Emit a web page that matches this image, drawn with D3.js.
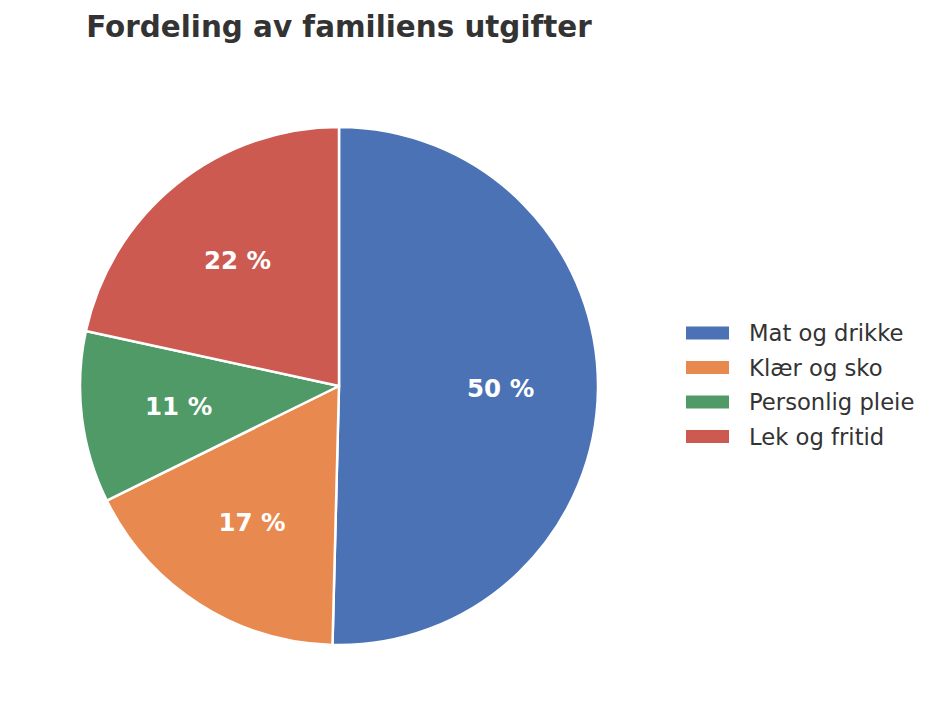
<!DOCTYPE html>
<html>
<head>
<meta charset="utf-8">
<script src="https://cdn.jsdelivr.net/npm/d3@7/dist/d3.min.js"></script>
<style>
  body { margin: 0; background: #ffffff; }
  text { font-family: "DejaVu Sans", sans-serif; }
</style>
</head>
<body>
<div id="chart"></div>
<script>
// expense categories and their shares (percent)
var categories = ["Mat og drikke", "Klær og sko", "Personlig pleie", "Lek og fritid"];
var shares = [50.4, 17.3, 10.7, 21.6];
var colors = ["#4a72b4", "#e8894f", "#509a67", "#cd5a51"];
var title = "Fordeling av familiens utgifter";

var width = 938, height = 726;
var cx = 339, cy = 386, radius = 259;

var svg = d3.select("#chart").append("svg")
  .attr("width", width).attr("height", height)
  .attr("style", "background-color: white;");

svg.append("text")
  .attr("x", cx).attr("y", 37)
  .attr("text-anchor", "middle")
  .attr("font-size", "29.4px").attr("font-weight", "bold")
  .attr("fill", "#333333")
  .text(title);

var data = categories.map(function(c, i) { return { name: c, value: shares[i], color: colors[i] }; });

// clockwise from 12 o'clock, keep data order
var pie = d3.pie().sort(null).value(function(d) { return d.value; });
var arc = d3.arc().innerRadius(0).outerRadius(radius);
var labelArc = d3.arc().innerRadius(radius * 0.624).outerRadius(radius * 0.624);

var g = svg.append("g").attr("transform", "translate(" + cx + "," + cy + ")");
var arcs = pie(data);

g.selectAll("path.slice").data(arcs).enter().append("path")
  .attr("class", "slice")
  .attr("d", arc)
  .attr("fill", function(d) { return d.data.color; })
  .attr("stroke", "#ffffff")
  .attr("stroke-width", 2.5)
  .attr("stroke-linejoin", "round");

var total = d3.sum(shares);
g.selectAll("text.pct").data(arcs).enter().append("text")
  .attr("class", "pct")
  .attr("transform", function(d) { return "translate(" + labelArc.centroid(d) + ")"; })
  .attr("text-anchor", "middle")
  .attr("dy", "0.36em")
  .attr("font-size", "24.5px").attr("font-weight", "bold")
  .attr("fill", "#ffffff")
  .text(function(d) { return Math.round(d.data.value / total * 100) + " %"; });

// legend
var legend = svg.append("g").attr("transform", "translate(686,333)");
var rows = legend.selectAll("g.row").data(data).enter().append("g")
  .attr("class", "row")
  .attr("transform", function(d, i) { return "translate(0," + (i * 34.5) + ")"; });

rows.append("rect")
  .attr("x", 0).attr("y", -6.5)
  .attr("width", 43).attr("height", 13)
  .attr("fill", function(d) { return d.color; });

rows.append("text")
  .attr("x", 63).attr("y", 0)
  .attr("dy", "0.36em")
  .attr("font-size", "22.7px")
  .attr("fill", "#333333")
  .text(function(d) { return d.name; });
</script>
</body>
</html>
